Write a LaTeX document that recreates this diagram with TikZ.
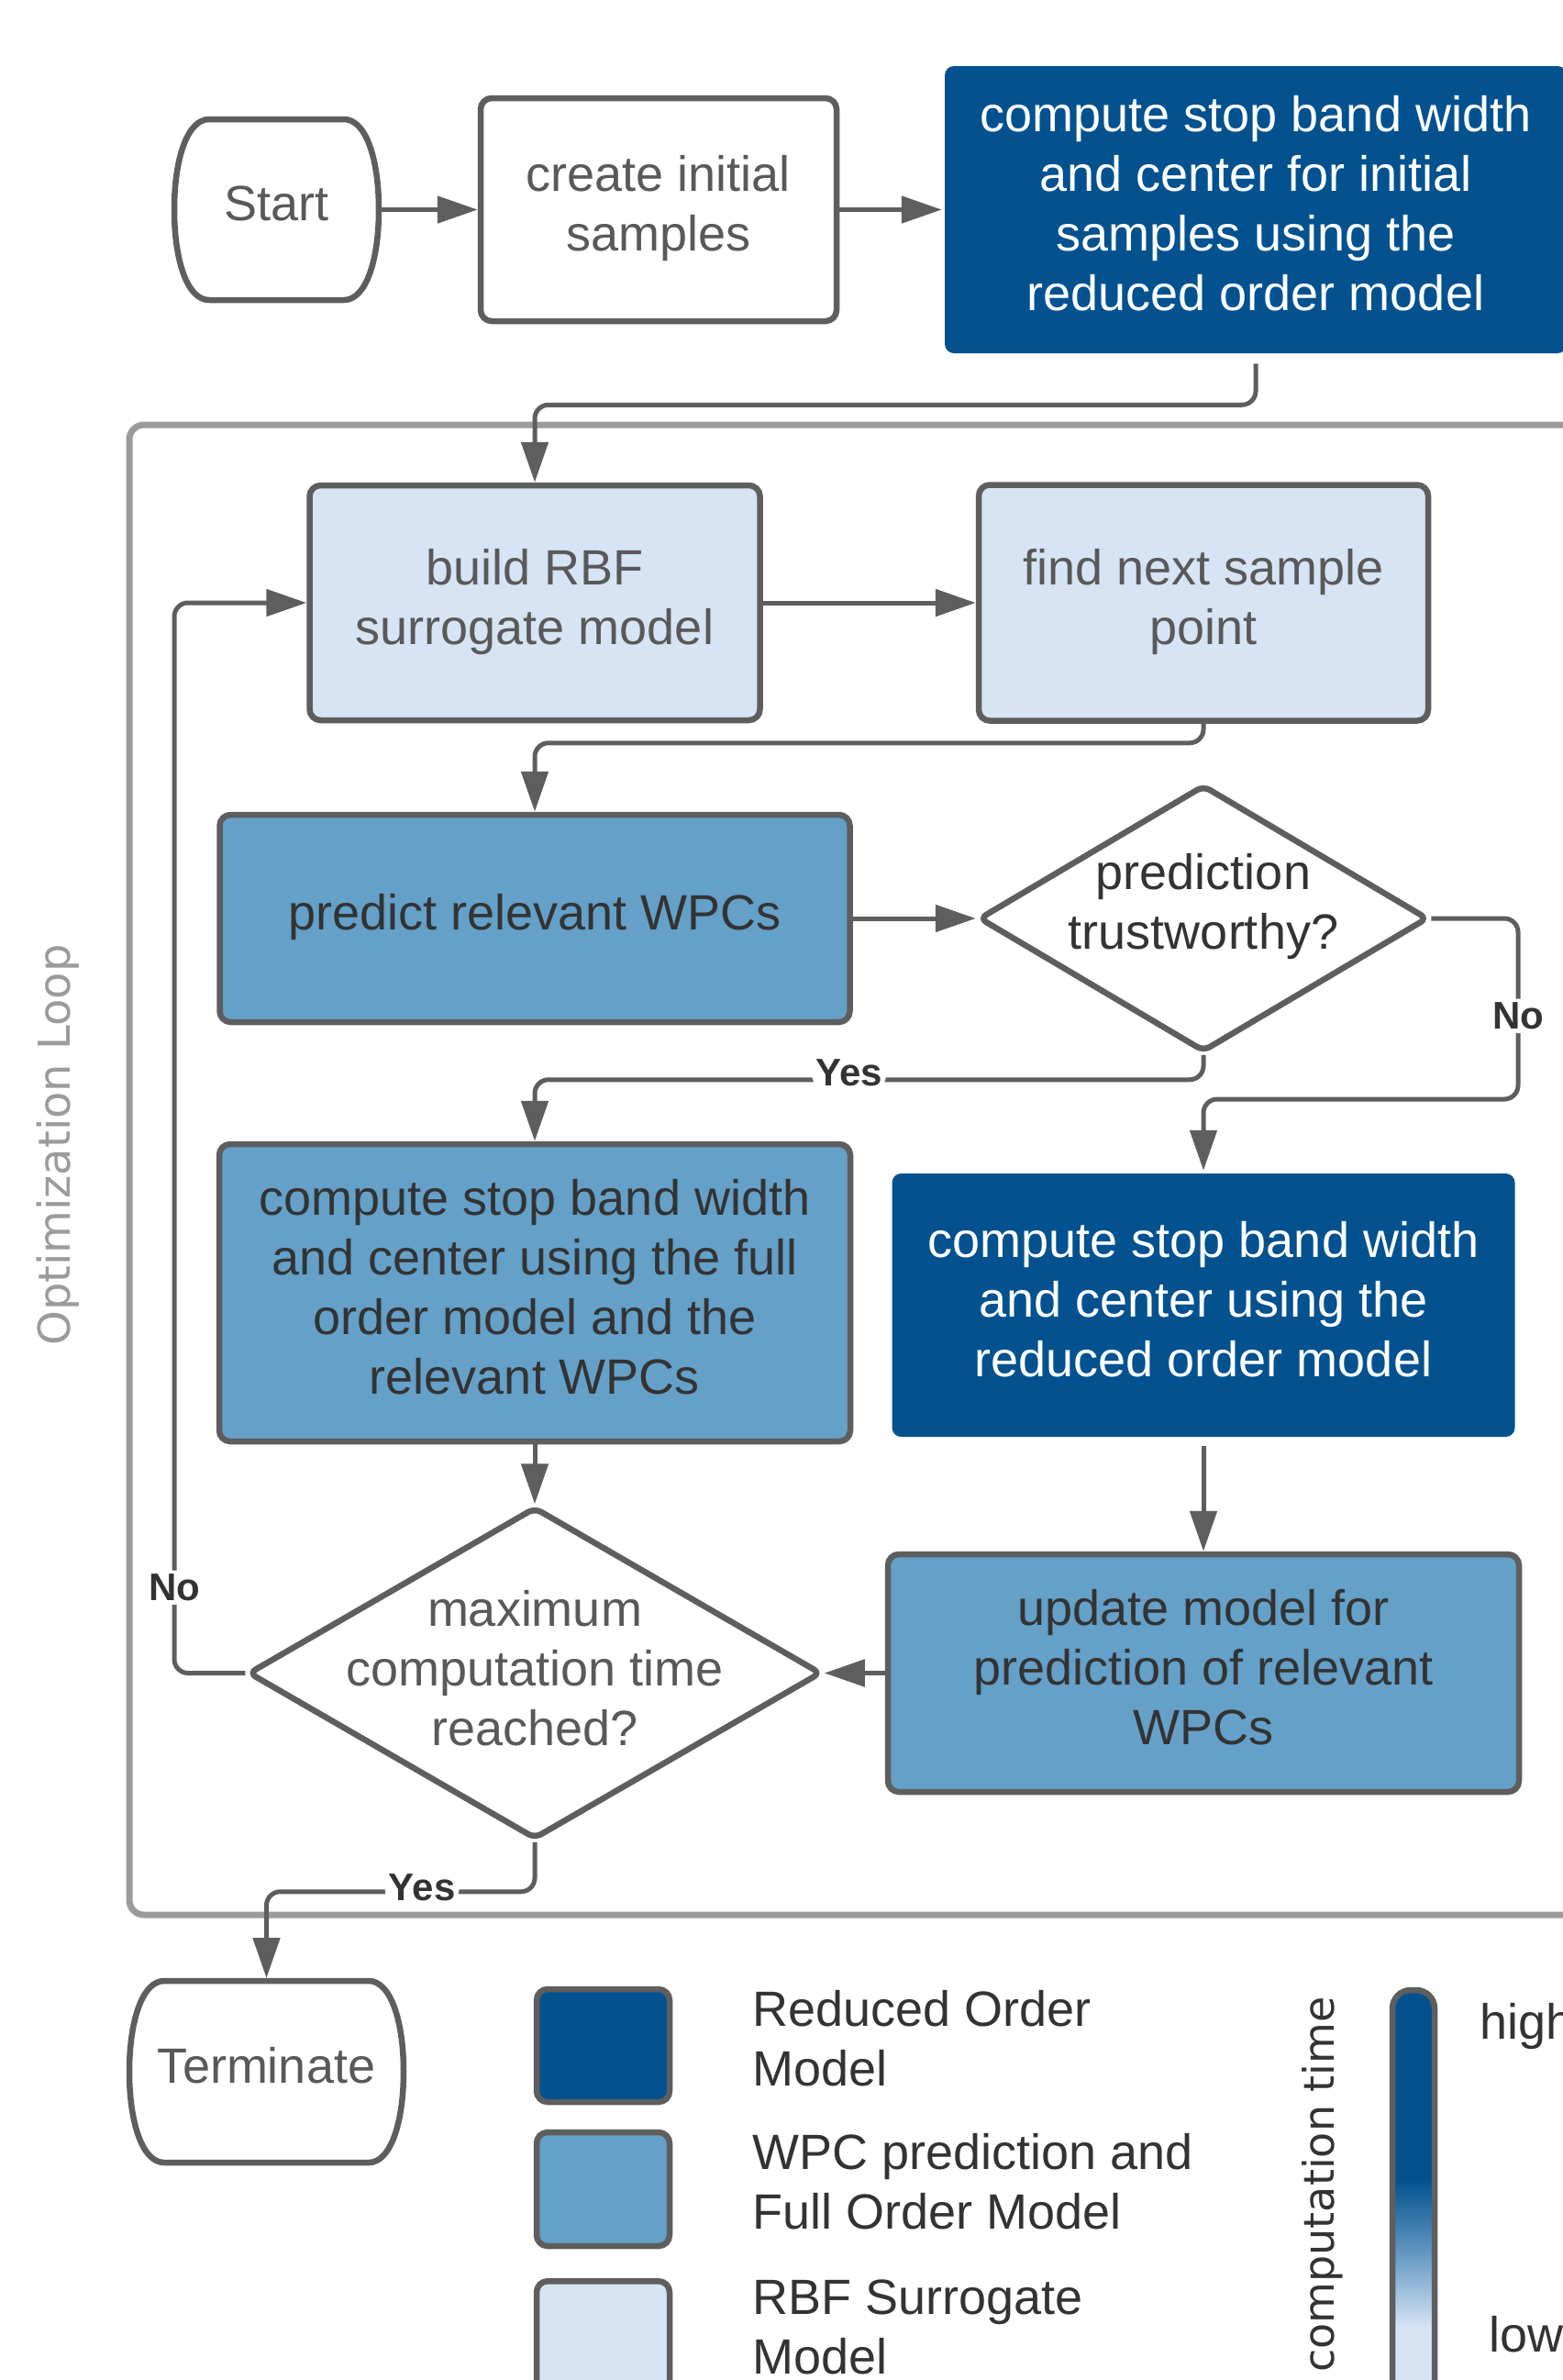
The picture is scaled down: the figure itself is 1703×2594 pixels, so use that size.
\documentclass[tikz,border=0pt]{standalone}
\usepackage{fontspec}
\setmainfont{Liberation Sans}
\newfontfamily\widesans{DejaVu Sans}
\usetikzlibrary{arrows.meta,shapes.geometric,calc}

\definecolor{robblue}{HTML}{03528F}
\definecolor{fomblue}{HTML}{64A0C8}
\definecolor{rbfblue}{HTML}{D6E4F3}
\definecolor{midblue}{HTML}{5E94C0}
\definecolor{edgegray}{HTML}{5E5E5E}
\definecolor{framegray}{HTML}{9B9B9B}
\definecolor{txtdark}{HTML}{333333}
\definecolor{txtgray}{HTML}{595959}

% colour scale for the computation-time bar (bottom = low, top = high)
\pgfdeclareverticalshading{comptime}{100bp}{color(0bp)=(rbfblue); color(36bp)=(rbfblue); color(45bp)=(midblue); color(53bp)=(robblue); color(100bp)=(robblue)}

% start / end terminator outline: flat top and bottom, bulging sides
\newcommand{\terminalshape}[1]{%
  \draw[edgegray, line width=6.5pt, line join=round]
    ($(#1.north west)+(38,0)$) -- ($(#1.north east)+(-38,0)$)
    .. controls ($(#1.north east)+(-14,0)$) and ($(#1.east)+(0,-55)$) .. (#1.east)
    .. controls ($(#1.east)+(0,55)$) and ($(#1.south east)+(-14,0)$) .. ($(#1.south east)+(-38,0)$)
    -- ($(#1.south west)+(38,0)$)
    .. controls ($(#1.south west)+(14,0)$) and ($(#1.west)+(0,55)$) .. (#1.west)
    .. controls ($(#1.west)+(0,-55)$) and ($(#1.north west)+(14,0)$) .. cycle;}

\begin{document}
\begin{tikzpicture}[x=1pt, y=-1pt,
  box/.style={rectangle, rounded corners=12pt, draw=edgegray, line width=6.5pt, align=center, inner sep=0pt, text depth=14pt, font=\fontsize{54}{65}\selectfont},
  robbox/.style={box, draw=none, fill=robblue, text=white, rounded corners=10pt},
  fombox/.style={box, fill=fomblue, text=txtdark},
  rbfbox/.style={box, fill=rbfblue, text=txtgray},
  plainbox/.style={box, fill=white, text=txtgray},
  terminal/.style={rectangle, inner sep=0pt, outer sep=0pt, text depth=14pt, text=txtgray, font=\fontsize{54}{65}\selectfont},
  decision/.style={diamond, draw=edgegray, line width=6.5pt, fill=white, inner sep=0pt, rounded corners=8pt},
  dtext/.style={align=center, inner sep=0pt, font=\fontsize{54}{65}\selectfont},
  flow/.style={draw=edgegray, line width=5pt, rounded corners=15pt, line join=round, -{Triangle[length=44pt,width=29pt]}},
  lbl/.style={font=\bfseries\fontsize{42}{50}\selectfont, text=txtdark, fill=white, inner sep=4pt},
  legtext/.style={align=left, anchor=north west, inner sep=0pt, text=txtdark, font=\fontsize{54}{65}\selectfont},
  legbox/.style={rectangle, rounded corners=12pt, draw=edgegray, line width=6.5pt, minimum width=145pt},
]
\useasboundingbox[fill=white] (0,0) rectangle (1703,2594);

% optimization loop frame
\draw[framegray, line width=7pt, rounded corners=16pt] (141,463) rectangle (1800,2087);
\node[rotate=90, inner sep=0pt, text=framegray, font=\widesans\fontsize{48}{50}\selectfont] (looplabel) at (63,1248) {Optimization Loop};

% initialisation
\node[terminal, minimum width=223pt, minimum height=197pt] (start) at (301.5,228.5) {Start};
\terminalshape{start}
\node[plainbox, minimum width=388pt, minimum height=243pt] (init) at (718,228.5) {create initial\\samples};
\node[robbox, minimum width=678pt, minimum height=313pt] (rominit) at (1369,228.5) {compute stop band width\\and center for initial\\samples using the\\reduced order model};

% loop body
\node[rbfbox, minimum width=491pt, minimum height=256pt] (build) at (583,657) {build RBF\\surrogate model};
\node[rbfbox, minimum width=490pt, minimum height=257pt] (find) at (1312,657) {find next sample\\point};
\node[fombox, minimum width=687pt, minimum height=226pt] (predict) at (583,1001) {predict relevant WPCs};
\node[decision, minimum width=490pt, minimum height=291pt] (d1) at (1312,1001) {};
\node[dtext, text=txtdark] (d1text) at (1312,988) {prediction\\trustworthy?};
\node[fombox, minimum width=688pt, minimum height=324pt] (fullc) at (583,1409) {compute stop band width\\and center using the full\\order model and the\\relevant WPCs};
\node[robbox, minimum width=679pt, minimum height=287pt] (romc) at (1312,1422.5) {compute stop band width\\and center using the\\reduced order model};
\node[fombox, minimum width=688pt, minimum height=259pt] (update) at (1312,1823.5) {update model for\\prediction of relevant\\WPCs};
\node[decision, minimum width=625pt, minimum height=362pt] (d2) at (583,1823.5) {};
\node[dtext, text=txtgray] (d2text) at (583,1818) {maximum\\computation time\\reached?};

% end
\node[terminal, minimum width=299pt, minimum height=198pt] (term) at (290.5,2258) {Terminate};
\terminalshape{term}

% bends of the side branches
\coordinate (nr) at (1655,1198);
\coordinate (nl) at (190,657);

% connectors
\draw[flow] (start.east) -- (init.west);
\draw[flow] (init.east) -- (rominit.west);
\draw[flow, shorten <=8pt] (rominit.south) -- ++(0,53) -| (build.north);
\draw[flow] (build.east) -- (find.west);
\draw[flow] (find.south) -- ++(0,21) -| (predict.north);
\draw[flow] (predict.east) -- (d1.west);
\draw[flow] (d1.east) -| node[lbl, pos=0.77] (nolbl1) {No} (nr) -| (romc.north);
\draw[flow] (d1.south) -- ++(0,27) -| node[lbl, pos=0.265, yshift=8pt] (yeslbl1) {Yes} (fullc.north);
\draw[flow] (fullc.south) -- (d2.north);
\draw[flow, shorten <=7pt] (romc.south) -- (update.north);
\draw[flow] (update.west) -- (d2.east);
\draw[flow] (d2.west) -| node[lbl, pos=0.54] (nolbl2) {No} (nl) -- (build.west);
\draw[flow, shorten >=3pt] (d2.south) -- ++(0,54) -| node[lbl, pos=0.21, yshift=5pt] (yeslbl2) {Yes} (term.north);

% legend
\node[legbox, fill=robblue, minimum height=123pt] (legrom) at (657.5,2229.5) {};
\node[legbox, fill=fomblue, minimum height=124pt] (legfom) at (657.5,2386) {};
\node[legbox, fill=rbfblue, minimum height=160pt, anchor=north] (legrbf) at (657.5,2483) {};
\node[legtext] (legromtxt) at (820,2169) {Reduced Order\\Model};
\node[legtext] (legfomtxt) at (820,2325) {WPC prediction and\\Full Order Model};
\node[legtext] (legrbftxt) at (820,2485) {RBF Surrogate\\Model};

% computation time scale
\node[rotate=90, anchor=east, inner sep=0pt, text=txtdark, font=\widesans\fontsize{46}{50}\selectfont] (ctime) at (1442,2176) {computation time};
\shadedraw[shading=comptime, draw=edgegray, line width=6.5pt, rounded corners=20pt] (1518,2169) rectangle (1564,2640);
\node[anchor=base west, inner sep=0pt, text=txtdark, font=\fontsize{54}{65}\selectfont] (hi) at (1613,2222) {high};
\node[anchor=base west, inner sep=0pt, text=txtdark, font=\fontsize{54}{65}\selectfont] (lo) at (1623,2563) {low};
\end{tikzpicture}
\end{document}
